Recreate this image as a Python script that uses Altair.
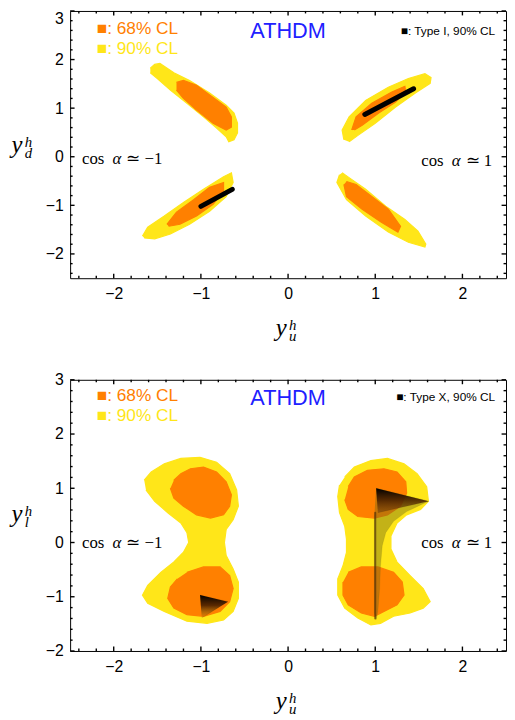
import altair as alt
import pandas as pd

# ---------------- axis ticks ----------------
X_MAJOR = [-2, -1, 0, 1, 2]
X_MINOR = [-2.4, -2.2, -1.8, -1.6, -1.4, -1.2, -0.8, -0.6, -0.4, -0.2,
           0.2, 0.4, 0.6, 0.8, 1.2, 1.4, 1.6, 1.8, 2.2, 2.4]
Y1_MAJOR = [-2, -1, 0, 1, 2, 3]
Y1_MINOR = [-2.4, -2.2, -1.8, -1.6, -1.4, -1.2, -0.8, -0.6, -0.4, -0.2,
            0.2, 0.4, 0.6, 0.8, 1.2, 1.4, 1.6, 1.8, 2.2, 2.4, 2.6, 2.8]
Y2_MAJOR = [-2, -1, 0, 1, 2, 3]
Y2_MINOR = [-1.8, -1.6, -1.4, -1.2, -0.8, -0.6, -0.4, -0.2,
            0.2, 0.4, 0.6, 0.8, 1.2, 1.4, 1.6, 1.8, 2.2, 2.4, 2.6, 2.8]

# ---------------- texts ----------------
LEG68 = "■: 68% CL"
LEG90 = "■: 90% CL"
MODEL = "ATHDM"
TYPE_I = "■: Type I, 90% CL"
TYPE_X = "■: Type X, 90% CL"
COS = "cos"
ALPHA = "α"
REL_M = "≃ −1"
REL_P = "≃ 1"

# ---------------- top panel (y_d vs y_u) regions ----------------
TOP_TL_90 = [(-1.58, 1.82), (-1.53, 1.90), (-1.47, 1.92), (-1.31, 1.73), (-1.13, 1.57),
             (-0.90, 1.31), (-0.71, 1.06), (-0.62, 0.90), (-0.58, 0.69), (-0.58, 0.49),
             (-0.62, 0.35), (-0.68, 0.31), (-0.71, 0.41), (-0.82, 0.59), (-0.97, 0.82),
             (-1.16, 1.10), (-1.35, 1.37), (-1.50, 1.61), (-1.58, 1.73)]
TOP_TL_68 = [(-1.28, 1.53), (-1.20, 1.57), (-1.05, 1.47), (-0.86, 1.22), (-0.71, 1.02),
             (-0.65, 0.82), (-0.65, 0.61), (-0.71, 0.55), (-0.86, 0.69), (-1.05, 0.96),
             (-1.20, 1.20), (-1.28, 1.37)]
TOP_TR_90 = [(0.64, 0.35), (0.62, 0.55), (0.70, 0.82), (0.89, 1.16), (1.15, 1.43),
             (1.38, 1.61), (1.57, 1.71), (1.64, 1.63), (1.63, 1.51), (1.46, 1.31),
             (1.23, 1.02), (1.00, 0.69), (0.81, 0.45), (0.70, 0.31)]
TOP_TR_68 = [(0.73, 0.55), (0.78, 0.82), (0.96, 1.10), (1.19, 1.33), (1.34, 1.45),
             (1.35, 1.33), (1.23, 1.12), (1.04, 0.90), (0.85, 0.65), (0.76, 0.55)]
TOP_BL_90 = [(-1.67, -1.63), (-1.61, -1.45), (-1.42, -1.22), (-1.20, -0.94), (-0.97, -0.67),
             (-0.74, -0.41), (-0.65, -0.33), (-0.63, -0.53), (-0.71, -0.82), (-0.90, -1.12),
             (-1.13, -1.39), (-1.35, -1.59), (-1.53, -1.69), (-1.65, -1.67)]
TOP_BL_68 = [(-1.39, -1.39), (-1.28, -1.14), (-1.08, -0.88), (-0.90, -0.63), (-0.74, -0.53),
             (-0.74, -0.71), (-0.86, -0.98), (-1.05, -1.22), (-1.24, -1.39), (-1.37, -1.43)]
TOP_BR_90 = [(0.59, -0.37), (0.56, -0.53), (0.67, -0.88), (0.89, -1.22), (1.15, -1.55),
             (1.38, -1.76), (1.57, -1.86), (1.58, -1.80), (1.49, -1.53), (1.34, -1.29),
             (1.12, -1.02), (0.89, -0.67), (0.70, -0.43), (0.62, -0.33)]
TOP_BR_68 = [(0.64, -0.57), (0.67, -0.82), (0.85, -1.08), (1.07, -1.35), (1.26, -1.55),
             (1.29, -1.43), (1.15, -1.08), (0.96, -0.82), (0.78, -0.57), (0.67, -0.51)]
TYPE_I_UP = [(0.88, 0.87), (1.44, 1.40)]
TYPE_I_DN = [(-1.00, -1.02), (-0.64, -0.67)]

# ---------------- bottom panel (y_l vs y_u) regions ----------------
BOT_L_90 = [(-1.65, 1.15), (-1.57, 1.30), (-1.42, 1.45), (-1.23, 1.55), (-1.01, 1.57),
            (-0.82, 1.48), (-0.67, 1.27), (-0.59, 0.97), (-0.57, 0.67), (-0.63, 0.42),
            (-0.71, 0.24), (-0.73, 0.00), (-0.71, -0.24), (-0.63, -0.49), (-0.57, -0.73),
            (-0.57, -1.03), (-0.63, -1.27), (-0.74, -1.43), (-0.93, -1.49), (-1.16, -1.45),
            (-1.42, -1.27), (-1.61, -1.12), (-1.67, -0.97), (-1.61, -0.79), (-1.46, -0.55),
            (-1.31, -0.36), (-1.20, -0.18), (-1.14, 0.00), (-1.16, 0.18), (-1.23, 0.36),
            (-1.38, 0.55), (-1.53, 0.76), (-1.63, 0.97)]
BOT_L_68_UP = [(-1.31, 1.15), (-1.23, 1.27), (-1.12, 1.36), (-0.97, 1.39), (-0.82, 1.30),
               (-0.71, 1.12), (-0.65, 0.88), (-0.67, 0.67), (-0.74, 0.51), (-0.89, 0.45),
               (-1.05, 0.51), (-1.20, 0.67), (-1.31, 0.82), (-1.35, 1.00)]
BOT_L_68_DN = [(-1.16, -0.55), (-0.97, -0.45), (-0.78, -0.45), (-0.67, -0.61), (-0.63, -0.85),
               (-0.67, -1.09), (-0.78, -1.27), (-0.97, -1.36), (-1.16, -1.33), (-1.31, -1.21),
               (-1.38, -1.03), (-1.35, -0.82), (-1.27, -0.67)]
BOT_R_90 = [(0.65, 1.21), (0.76, 1.39), (0.95, 1.51), (1.14, 1.55), (1.33, 1.45),
            (1.48, 1.27), (1.59, 1.03), (1.61, 0.76), (1.52, 0.61), (1.36, 0.51),
            (1.25, 0.36), (1.18, 0.12), (1.18, -0.12), (1.25, -0.36), (1.40, -0.61),
            (1.55, -0.85), (1.63, -1.09), (1.55, -1.21), (1.40, -1.30), (1.21, -1.36),
            (1.06, -1.49), (0.95, -1.52), (0.80, -1.39), (0.65, -1.21), (0.57, -0.97),
            (0.57, -0.67), (0.63, -0.43), (0.67, -0.18), (0.67, 0.06), (0.65, 0.30),
            (0.59, 0.55), (0.57, 0.85), (0.59, 1.06)]
BOT_R_68_UP = [(0.69, 1.03), (0.76, 1.21), (0.91, 1.33), (1.10, 1.36), (1.25, 1.30),
               (1.35, 1.12), (1.36, 0.91), (1.29, 0.67), (1.14, 0.51), (0.99, 0.45),
               (0.80, 0.48), (0.69, 0.61), (0.65, 0.79)]
BOT_R_68_DN = [(0.69, -0.55), (0.84, -0.45), (1.03, -0.45), (1.21, -0.55), (1.31, -0.73),
               (1.33, -0.97), (1.25, -1.15), (1.10, -1.27), (0.99, -1.36), (0.84, -1.30),
               (0.69, -1.15), (0.63, -0.97), (0.63, -0.73)]
TYPE_X_L_TRI = [(-1.01, -0.97), (-0.69, -1.09), (-0.99, -1.39)]
TYPE_X_R_TRI = [(1.01, 1.00), (1.61, 0.76), (1.03, 0.55)]
TYPE_X_R_FAN = [(1.01, 1.00), (1.61, 0.76), (1.36, 0.57), (1.21, 0.39), (1.12, 0.18),
                (1.08, -0.06), (1.06, -0.43), (1.05, -0.85), (1.03, -1.27), (1.01, -1.42),
                (0.99, -1.30), (0.99, 0.50)]
TYPE_X_R_STRIPE = [(1.00, 0.55), (1.00, -1.40)]

ORANGE = "#FF8000"
YELLOW = "#FFE619"
BLUE = "#2020FF"
W = 442
H1 = 271
H2 = 275

ONE = pd.DataFrame({"k": [0]})


def poly_frame(polys):
    rows = []
    for name, pts in polys:
        for k, (px, py) in enumerate(pts):
            rows.append({"id": name, "i": k, "x": px, "y": py})
    return pd.DataFrame(rows)


def make_panel(H, ydom, ymajor, yminor, regions90, regions68, dark_layers,
               type_label, sub, flush, cos_y_m, cos_y_p, top_off):
    xaxis = alt.Axis(values=X_MAJOR, format="d", ticks=False, domain=False, grid=False,
                     labelPadding=8, labelFontSize=16, labelFont="Liberation Sans",
                     labelColor="black", title=None)
    yaxis = alt.Axis(values=ymajor, format="d", ticks=False, domain=False, grid=False,
                     labelPadding=7, labelFontSize=16, labelFont="Liberation Sans",
                     labelColor="black", labelFlush=flush, title=None)
    xs = alt.Scale(domain=[-2.5, 2.5], nice=False, zero=False)
    ys = alt.Scale(domain=ydom, nice=False, zero=False)
    X = alt.X("x:Q", scale=xs, axis=xaxis)
    Y = alt.Y("y:Q", scale=ys, axis=yaxis)

    def polys(regs, fill):
        return alt.Chart(poly_frame(regs)).mark_line(
            fill=fill, stroke=fill, strokeWidth=1.2
        ).encode(x=X, y=Y, detail="id:N", order="i:Q")

    layers = [polys(regions90, YELLOW), polys(regions68, ORANGE)]
    for kind, regs, style in dark_layers:
        df = poly_frame(regs)
        extra = dict(strokeCap="round") if kind == "line" else {}
        layers.append(alt.Chart(df).mark_line(**extra, **style)
                      .encode(x=X, y=Y, detail="id:N", order="i:Q"))

    # frame ticks (inward)
    for vals, L in ((X_MAJOR, 4.5), (X_MINOR, 2.5)):
        d = pd.DataFrame({"x": vals})
        for yy in (H - L / 2, L / 2):
            layers.append(alt.Chart(d).mark_tick(orient="vertical", size=L, thickness=1.4,
                                                 color="black", opacity=1)
                          .encode(x=X, y=alt.value(yy)))
    for vals, L in ((ymajor, 4.5), (yminor, 2.5)):
        d = pd.DataFrame({"y": vals})
        for xx in (L / 2, W - L / 2):
            layers.append(alt.Chart(d).mark_tick(orient="horizontal", size=L, thickness=1.4,
                                                 color="black", opacity=1)
                          .encode(y=Y, x=alt.value(xx)))

    def txt(t, px, py, **kw):
        return alt.Chart(ONE).mark_text(text=t, **kw).encode(x=alt.value(px), y=alt.value(py))

    sans = dict(font="Liberation Sans")
    serif = dict(font="Liberation Serif", color="black")
    layers += [
        txt(LEG68, 27, 18.5 + top_off, align="left", baseline="middle", fontSize=17.5,
            color=ORANGE, **sans),
        txt(LEG90, 27, 39 + top_off, align="left", baseline="middle", fontSize=17.5,
            color=YELLOW, **sans),
        txt(MODEL, 221, 20.5 + top_off, align="center", baseline="middle", fontSize=22,
            color=BLUE, **sans),
        txt(type_label, 431, 20 + top_off, align="right", baseline="middle", fontSize=12,
            color="black", **sans),
        # cos alpha ~ -1 (left) and ~ 1 (right)
        txt(COS, 12, cos_y_m, align="left", baseline="middle", fontSize=17, **serif),
        txt(ALPHA, 43, cos_y_m, align="left", baseline="middle", fontSize=17,
            fontStyle="italic", **serif),
        txt(REL_M, 57, cos_y_m, align="left", baseline="middle", fontSize=17, **serif),
        txt(COS, 356, cos_y_p, align="left", baseline="middle", fontSize=17, **serif),
        txt(ALPHA, 387, cos_y_p, align="left", baseline="middle", fontSize=17,
            fontStyle="italic", **serif),
        txt(REL_P, 401, cos_y_p, align="left", baseline="middle", fontSize=17, **serif),
        # x-axis title  y_u^h
        txt("y", 214, H + 58.5, align="center", baseline="alphabetic", fontSize=25,
            fontStyle="italic", **serif),
        txt("h", 222, H + 52.5, align="left", baseline="alphabetic", fontSize=15,
            fontStyle="italic", **serif),
        txt("u", 222, H + 63.5, align="left", baseline="alphabetic", fontSize=15,
            fontStyle="italic", **serif),
        # y-axis title
        txt("y", -54, 144, align="center", baseline="alphabetic", fontSize=25,
            fontStyle="italic", **serif),
        txt("h", -46, 138, align="left", baseline="alphabetic", fontSize=15,
            fontStyle="italic", **serif),
        txt(sub, -46, 149, align="left", baseline="alphabetic", fontSize=15,
            fontStyle="italic", **serif),
    ]
    return alt.layer(*layers).properties(width=W, height=H)


grad_l = alt.LinearGradient(
    gradient="linear",
    stops=[alt.GradientStop(offset=0, color="black"),
           alt.GradientStop(offset=0.45, color="rgba(60,25,0,0.85)"),
           alt.GradientStop(offset=1, color="rgba(120,110,20,0.15)")],
    x1=0, x2=0, y1=0, y2=1)
grad_r = alt.LinearGradient(
    gradient="linear",
    stops=[alt.GradientStop(offset=0, color="black"),
           alt.GradientStop(offset=0.5, color="rgba(70,30,0,0.85)"),
           alt.GradientStop(offset=1, color="rgba(110,60,10,0.5)")],
    x1=0, x2=0, y1=0, y2=1)

top = make_panel(
    H1, [-2.5, 3], Y1_MAJOR, Y1_MINOR,
    [("tl", TOP_TL_90), ("tr", TOP_TR_90), ("bl", TOP_BL_90), ("br", TOP_BR_90)],
    [("tl", TOP_TL_68), ("tr", TOP_TR_68), ("bl", TOP_BL_68), ("br", TOP_BR_68)],
    [("line", [("a", TYPE_I_UP), ("b", TYPE_I_DN)],
      dict(color="black", strokeWidth=5))],
    TYPE_I, "d", True, 150, 152, 0)

bottom = make_panel(
    H2, [-2, 3], Y2_MAJOR, Y2_MINOR,
    [("l", BOT_L_90), ("r", BOT_R_90)],
    [("lu", BOT_L_68_UP), ("ld", BOT_L_68_DN), ("ru", BOT_R_68_UP), ("rd", BOT_R_68_DN)],
    [("poly", [("fan", TYPE_X_R_FAN)],
      dict(fill="#6a6414", stroke="#6a6414", strokeWidth=0.5, fillOpacity=0.4,
           strokeOpacity=0.3)),
     ("line", [("s", TYPE_X_R_STRIPE)],
      dict(color="#4a2a08", strokeWidth=2, opacity=0.65)),
     ("poly", [("tl", TYPE_X_L_TRI)],
      dict(fill=grad_l, stroke="black", strokeWidth=0.3, strokeOpacity=0.3)),
     ("poly", [("tr", TYPE_X_R_TRI)],
      dict(fill=grad_r, stroke="black", strokeWidth=0.3, strokeOpacity=0.3))],
    TYPE_X, "l", False, 166, 166, -2)

chart = alt.vconcat(top, bottom, spacing=103, bounds="flush").properties(
    padding={"left": 2, "top": -4, "right": 0, "bottom": 0}
).configure_view(stroke="black", strokeWidth=1)

chart.save("out.html", embed_options={"renderer": "svg", "actions": False})
